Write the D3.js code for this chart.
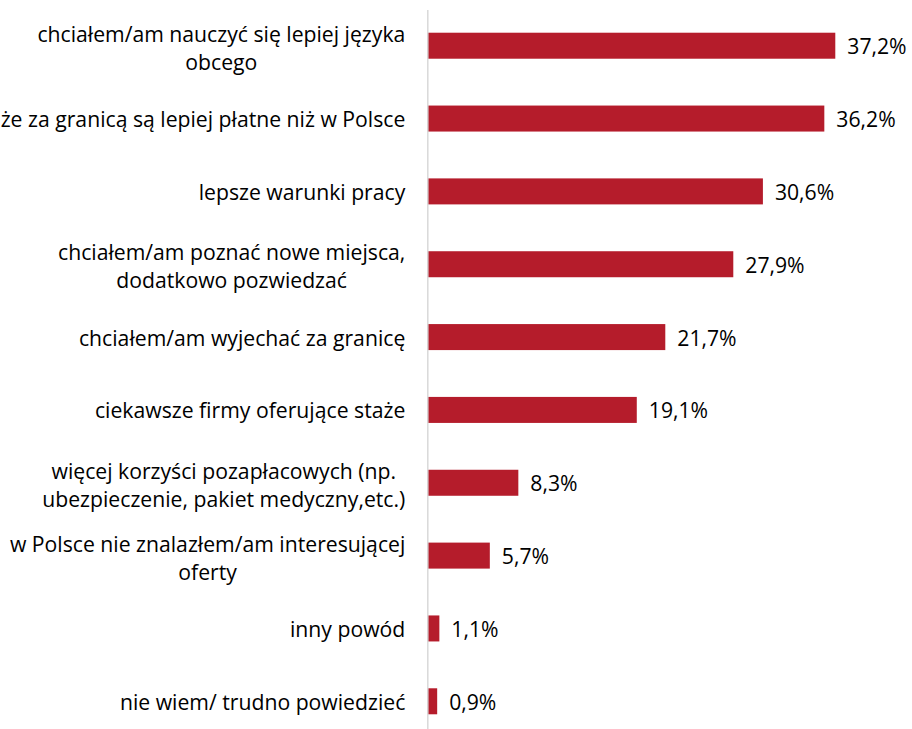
<!DOCTYPE html>
<html>
<head>
<meta charset="utf-8">
<script src="https://cdn.jsdelivr.net/npm/d3@7"></script>
<style>
  html, body { margin: 0; padding: 0; background: #fff; overflow: hidden; }
  svg { display: block; }
  text { font-family: "Open Sans", "Noto Sans", sans-serif; fill: #000; }
</style>
</head>
<body>
<svg id="chart" width="912" height="729"></svg>
<script>
// Reasons for choosing an internship abroad (share of respondents, %)
const categories = [
  ["chciałem/am nauczyć się lepiej języka", "obcego"],
  ["staże za granicą są lepiej płatne niż w Polsce"],
  ["lepsze warunki pracy"],
  ["chciałem/am poznać nowe miejsca,", "dodatkowo pozwiedzać"],
  ["chciałem/am wyjechać za granicę"],
  ["ciekawsze firmy oferujące staże"],
  ["więcej korzyści pozapłacowych (np.", "ubezpieczenie, pakiet medyczny,etc.)"],
  ["w Polsce nie znalazłem/am interesującej", "oferty"],
  ["inny powód"],
  ["nie wiem/ trudno powiedzieć"]
];
const values = [37.2, 36.2, 30.6, 27.9, 21.7, 19.1, 8.3, 5.7, 1.1, 0.9];
const valueLabels = ["37,2%", "36,2%", "30,6%", "27,9%", "21,7%", "19,1%", "8,3%", "5,7%", "1,1%", "0,9%"];

const svg = d3.select("#chart");
const fontSize = 21.2;
const lineHeight = 28;
const barColor = "#B51C2B";

const ids = d3.range(values.length);
const y = d3.scaleBand()
  .domain(ids)
  .range([9.4, 737.6])
  .paddingInner(0.643)
  .paddingOuter(0.32);

const x = d3.scaleLinear().domain([0, 40]).range([427.3, 866]);

// bars
svg.append("g")
  .selectAll("rect")
  .data(ids)
  .join("rect")
  .attr("x", x(0))
  .attr("y", i => y(i))
  .attr("width", i => x(values[i]) - x(0))
  .attr("height", y.bandwidth())
  .attr("fill", barColor);

// vertical category axis (line only)
const axis = svg.append("g")
  .attr("transform", `translate(${x(0)},0)`)
  .call(d3.axisLeft(y).tickSize(0).tickFormat(""));
axis.select(".domain").attr("stroke", "#d9d9d9").attr("stroke-width", 1.5);

// category labels: block right-aligned to the axis, lines centred within the block
const labelRight = x(0) - 22;
const labelG = svg.append("g");
ids.forEach(i => {
  const lines = categories[i];
  const g = labelG.append("g");
  const shift = lines.length > 1 ? 1.5 : 0;
  const texts = lines.map((ln, k) => g.append("text")
    .attr("font-size", fontSize)
    .attr("text-anchor", "middle")
    .attr("dominant-baseline", "central")
    .attr("y", y(i) + y.bandwidth() / 2 + shift + (k - (lines.length - 1) / 2) * lineHeight)
    .text(ln));
  const w = d3.max(texts, t => t.node().getComputedTextLength());
  texts.forEach(t => t.attr("x", labelRight - w / 2));
});

// value labels
svg.append("g")
  .selectAll("text")
  .data(ids)
  .join("text")
  .attr("font-size", fontSize)
  .attr("dominant-baseline", "central")
  .attr("x", i => x(values[i]) + 12)
  .attr("y", i => y(i) + y.bandwidth() / 2)
  .text(i => valueLabels[i]);
</script>
</body>
</html>
